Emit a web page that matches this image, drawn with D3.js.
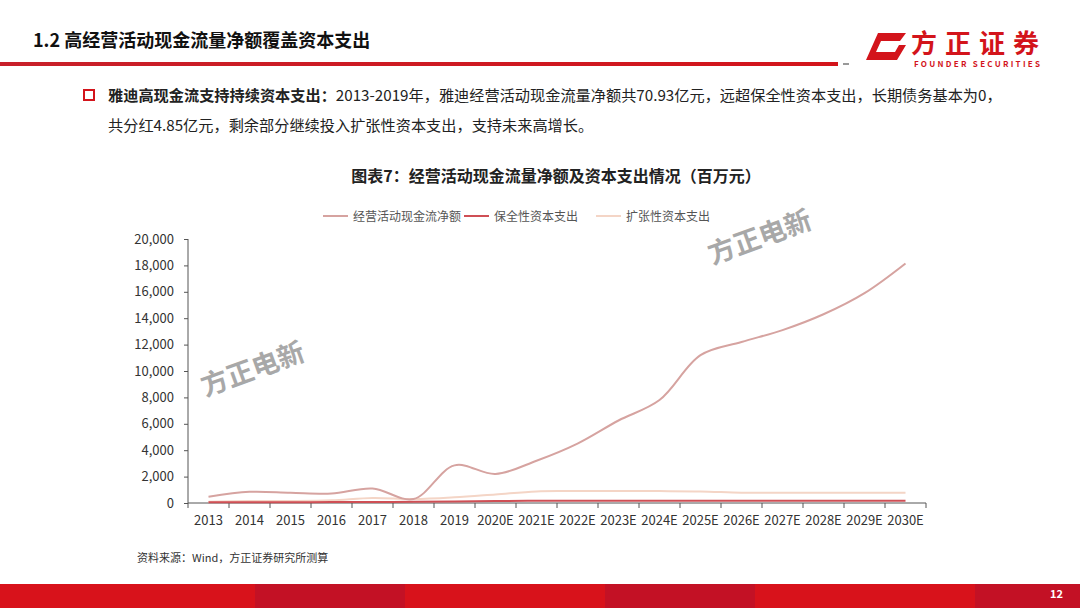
<!DOCTYPE html>
<html><head><meta charset="utf-8">
<script src="https://cdn.jsdelivr.net/npm/d3@7/dist/d3.min.js"></script>
<style>
html,body{margin:0;padding:0;background:#fff;}
svg text{font-family:"Noto Sans CJK SC","Noto Sans",sans-serif;}
</style></head>
<body><svg id="c" width="1080" height="608"></svg>
<script>
const categories = ["2013","2014","2015","2016","2017","2018","2019","2020E","2021E","2022E","2023E","2024E","2025E","2026E","2027E","2028E","2029E","2030E"];
const operatingCF = [480,850,780,720,1100,300,2850,2200,3200,4500,6250,7800,11200,12200,13100,14300,15900,18150];
const maintCapex = [60,60,60,70,80,90,110,150,170,170,170,170,170,170,170,170,170,170];
const expansionCapex = [100,150,150,200,380,300,430,650,880,900,900,900,880,780,770,770,770,770];
const yTicks = [0,2000,4000,6000,8000,10000,12000,14000,16000,18000,20000];
const seriesNames = ["经营活动现金流净额","保全性资本支出","扩张性资本支出"];
const seriesColors = ["#d6a3a0","#cf4f55","#f4d5c6"];

const svg = d3.select("#c");

// Header
svg.append("text").attr("x",33).attr("y",47).attr("font-size",18).attr("font-weight","bold").attr("fill","#111")
  .text("1.2 高经营活动现金流量净额覆盖资本支出");
const grad = svg.append("defs").append("linearGradient").attr("id","hl").attr("x1","0").attr("x2","1");
grad.append("stop").attr("offset","0").attr("stop-color","#c8202a");
grad.append("stop").attr("offset","1").attr("stop-color","#d3141b");
svg.append("rect").attr("x",0).attr("y",62).attr("width",838).attr("height",4).attr("fill","url(#hl)");
svg.append("rect").attr("x",843).attr("y",63).attr("width",6).attr("height",2).attr("fill","#999");
// logo
svg.append("path").attr("d","M878,33 L906,33 L900,41 L881,41 L876,52 L895,52 L899,45 L906,45 L897,60 L866,60 Z").attr("fill","#d3141b");
svg.append("text").attr("x",911).attr("y",53).attr("font-size",26).attr("font-weight","bold").attr("fill","#d3141b")
  .attr("textLength",128).attr("lengthAdjust","spacing").text("方正证券");
svg.append("text").attr("x",914).attr("y",67).attr("font-size",8).attr("font-weight","bold").attr("fill","#d3141b")
  .attr("font-family","Liberation Sans").attr("textLength",126).attr("lengthAdjust","spacing").text("FOUNDER SECURITIES");

// bullet
svg.append("rect").attr("x",84).attr("y",90).attr("width",10).attr("height",10).attr("fill","none").attr("stroke","#d3141b").attr("stroke-width",2);
const t1 = svg.append("text").attr("x",108).attr("y",101).attr("font-size",15.2).attr("fill","#222");
t1.append("tspan").attr("font-weight","bold").text("雅迪高现金流支持持续资本支出：");
t1.append("tspan").text("2013-2019年，雅迪经营活动现金流量净额共70.93亿元，远超保全性资本支出，长期债务基本为0，");
svg.append("text").attr("x",108).attr("y",131).attr("font-size",15.2).attr("fill","#222").text("共分红4.85亿元，剩余部分继续投入扩张性资本支出，支持未来高增长。");

// Chart title
svg.append("text").attr("x",556).attr("y",182).attr("text-anchor","middle").attr("font-size",16).attr("font-weight","bold").attr("fill","#222")
  .text("图表7：经营活动现金流量净额及资本支出情况（百万元）");

// Legend
const legX = [323,464,596];
seriesNames.forEach((n,i)=>{
  svg.append("line").attr("x1",legX[i]).attr("x2",legX[i]+25).attr("y1",216).attr("y2",216).attr("stroke",seriesColors[i]).attr("stroke-width",2);
  svg.append("text").attr("x",legX[i]+30).attr("y",220.5).attr("font-size",12).attr("fill","#555").text(n);
});

// Scales
const x = d3.scaleBand().domain(categories).range([188,926]);
const y = d3.scaleLinear().domain([0,20000]).range([503,239]);

// Watermarks
[[256,378],[763,246]].forEach(([wx,wy])=>{
  svg.append("text").attr("transform",`translate(${wx},${wy}) rotate(-20)`).attr("text-anchor","middle")
    .attr("font-size",27).attr("font-weight","bold").attr("fill","#9a9a9a").attr("opacity",0.85).text("方正电新");
});

// Axes
const yAxis = svg.append("g").attr("transform","translate(188,0)")
  .call(d3.axisLeft(y).tickValues(yTicks).tickFormat(d3.format(",")).tickSize(4).tickPadding(10));
yAxis.selectAll("text").attr("font-size",13).attr("fill","#333").attr("font-family","'Liberation Sans',sans-serif");
yAxis.selectAll("line,path").attr("stroke","#555");
yAxis.select(".domain").attr("d","M0,503V239");

const xAxis = svg.append("g").attr("transform","translate(0,503)");
xAxis.append("line").attr("x1",188).attr("x2",926).attr("stroke","#555");
xAxis.selectAll("line.tk").data(categories.map(c=>x(c)).concat([926])).join("line").attr("class","tk")
  .attr("x1",d=>d).attr("x2",d=>d).attr("y1",0).attr("y2",5).attr("stroke","#555");
xAxis.selectAll("text").data(categories).join("text")
  .attr("x",d=>x(d)+x.bandwidth()/2).attr("y",22).attr("text-anchor","middle")
  .attr("font-size",13).attr("fill","#333").attr("font-family","'Liberation Sans Narrow','Liberation Sans',sans-serif").text(d=>d);

// Lines
const line = d3.line().x((d,i)=>x(categories[i])+x.bandwidth()/2).y(d=>y(d)).curve(d3.curveCatmullRom.alpha(0.5));
[[expansionCapex,2],[maintCapex,1],[operatingCF,0]].forEach(([data,i])=>{
  svg.append("path").datum(data).attr("d",line).attr("fill","none").attr("stroke",seriesColors[i]).attr("stroke-width",2);
});

// Source
svg.append("text").attr("x",137).attr("y",562).attr("font-size",11).attr("fill","#333").text("资料来源：Wind，方正证券研究所测算");

// Footer
const fcols = ["#d8121b","#c31125","#d8121b","#c31125","#d8121b","#c31125"];
const fw = [255,150,200,150,220,105];
let fx=0;
fw.forEach((w,i)=>{svg.append("rect").attr("x",fx).attr("y",584).attr("width",w+1).attr("height",24).attr("fill",fcols[i]); fx+=w;});
svg.append("text").attr("x",1063).attr("y",598).attr("text-anchor","end").attr("font-size",11).attr("font-weight","bold").attr("fill","#fff").text("12");
</script></body></html>
